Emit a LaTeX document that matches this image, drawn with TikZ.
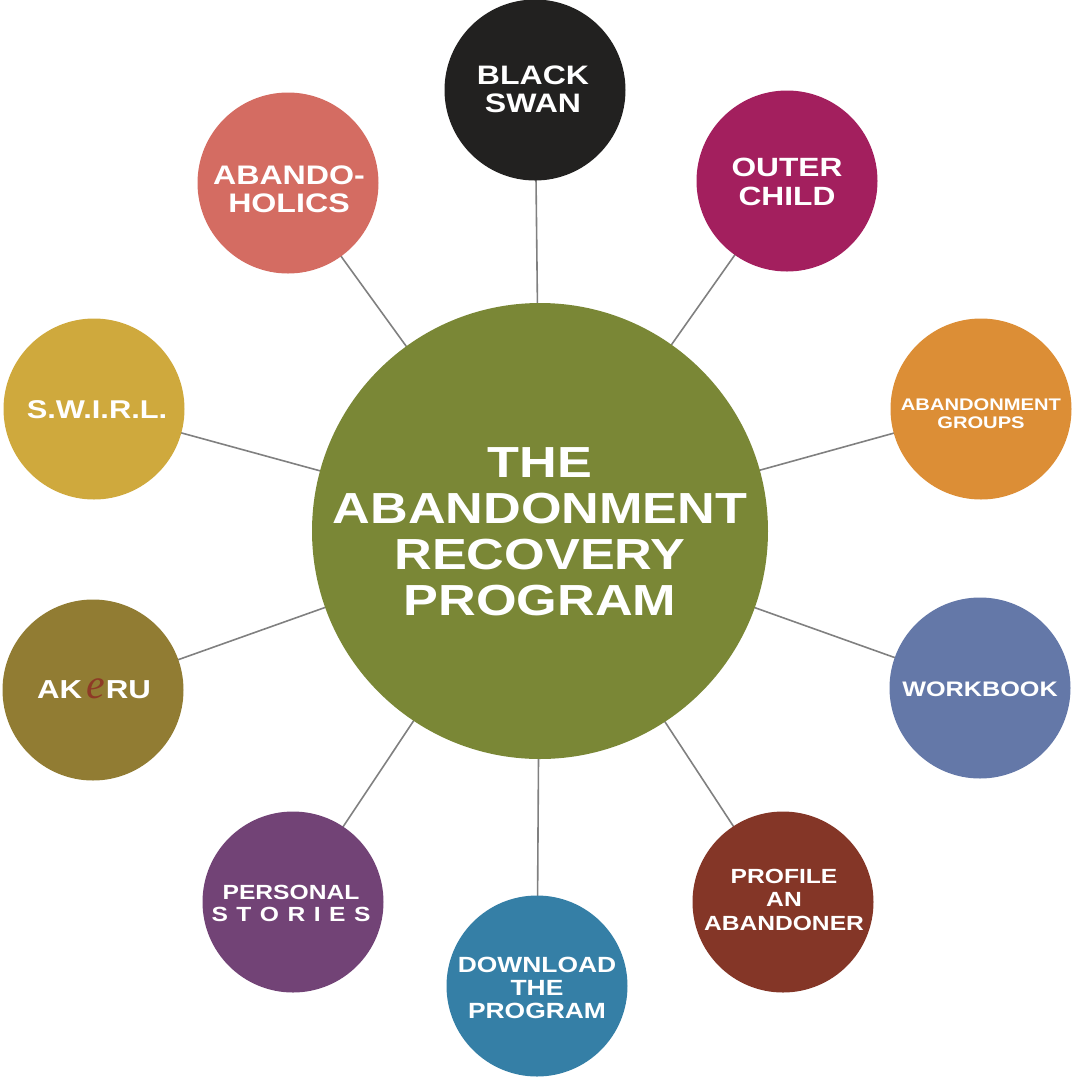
\documentclass[tikz,border=0pt]{standalone}
\usepackage{fontspec}
\newfontfamily\wf[FakeStretch=1.2]{Liberation Sans}
\newfontfamily\efont{Liberation Serif}
\definecolor{cCenter}{HTML}{7A8736}
\definecolor{cBS}{HTML}{222120}
\definecolor{cOC}{HTML}{A31F5E}
\definecolor{cAG}{HTML}{DC8E36}
\definecolor{cWB}{HTML}{6478A8}
\definecolor{cPA}{HTML}{843627}
\definecolor{cDL}{HTML}{357FA6}
\definecolor{cPS}{HTML}{724376}
\definecolor{cAK}{HTML}{917C33}
\definecolor{cSW}{HTML}{CFA93D}
\definecolor{cAH}{HTML}{D46C62}
\definecolor{cE}{HTML}{8E3A26}
\definecolor{cLine}{HTML}{808080}
\tikzset{
  bubble/.style={circle, inner sep=0pt, minimum size=181pt, draw=none},
  hub/.style={circle, inner sep=0pt, minimum size=456pt, draw=none, fill=cCenter},
  lbl/.style={text=white, align=center, inner sep=0pt},
  spoke/.style={draw=cLine, line width=1.6pt},
}
\begin{document}
\begin{tikzpicture}[x=1pt,y=-1pt]
\useasboundingbox (0,0) rectangle (1080,1080);
% circles (positions only)
\coordinate (c0) at (540,531);
\coordinate (bs0) at (535,90);
\coordinate (oc0) at (787,181);
\coordinate (ag0) at (981,409);
\coordinate (wb0) at (980,688);
\coordinate (pa0) at (783,902);
\coordinate (dl0) at (537,986);
\coordinate (ps0) at (293,902);
\coordinate (ak0) at (93,690);
\coordinate (sw0) at (94,409);
\coordinate (ah0) at (288,183);
% spokes
\foreach \n in {bs0,oc0,ag0,wb0,pa0,dl0,ps0,ak0,sw0,ah0}
  \draw[spoke] (c0) -- (\n);
% nodes
\node[hub] (c) at (c0) {};
\node[bubble, fill=cBS] (bs) at (bs0) {};
\node[bubble, fill=cOC] (oc) at (oc0) {};
\node[bubble, fill=cAG] (ag) at (ag0) {};
\node[bubble, fill=cWB] (wb) at (wb0) {};
\node[bubble, fill=cPA] (pa) at (pa0) {};
\node[bubble, fill=cDL] (dl) at (dl0) {};
\node[bubble, fill=cPS] (ps) at (ps0) {};
\node[bubble, fill=cAK] (ak) at (ak0) {};
\node[bubble, fill=cSW] (sw) at (sw0) {};
\node[bubble, fill=cAH] (ah) at (ah0) {};
% labels
\node[lbl, font=\wf\bfseries\fontsize{43.5}{46}\selectfont] (tc) at (540,532) {THE\\ABANDONMENT\\RECOVERY\\PROGRAM};
\node[lbl, font=\wf\bfseries\fontsize{26.7}{28}\selectfont] (tbs) at (533,89.5) {BLACK\\SWAN};
\node[lbl, font=\wf\bfseries\fontsize{26.4}{29}\selectfont] (toc) at (787,182) {OUTER\\CHILD};
\node[lbl, font=\wf\bfseries\fontsize{16.8}{18}\selectfont] (tag) at (981,414) {ABANDONMENT\\GROUPS};
\node[lbl, font=\wf\bfseries\fontsize{21}{23}\selectfont] (twb) at (980,689.5) {WORKBOOK};
\node[lbl, font=\wf\bfseries\fontsize{20.5}{23.5}\selectfont] (tpa) at (784,899.5) {PROFILE\\AN\\ABANDONER};
\node[lbl, font=\wf\bfseries\fontsize{22}{23}\selectfont] (tdl) at (537,988) {DOWNLOAD\\THE\\PROGRAM};
\node[lbl, font=\wf\bfseries\fontsize{20.5}{22}\selectfont] (tps) at (291,903) {PERSONAL\\S\hspace{8.5pt}T\hspace{8.5pt}O\hspace{8.5pt}R\hspace{8.5pt}I\hspace{8.5pt}E\hspace{8.5pt}S};
\node[lbl, font=\wf\bfseries\fontsize{25.7}{28}\selectfont] (tsw) at (97,410) {S.W.I.R.L.};
\node[lbl, font=\wf\bfseries\fontsize{26}{28}\selectfont] (tak) at (94,689) {AK\hspace{4pt}{\efont\itshape\mdseries\fontsize{42}{44}\selectfont\color{cE}e}\hspace{1pt}RU};
\node[lbl, font=\wf\bfseries\fontsize{26.8}{28}\selectfont] (tah) at (289,189) {ABANDO-\\HOLICS};
\end{tikzpicture}
\end{document}
